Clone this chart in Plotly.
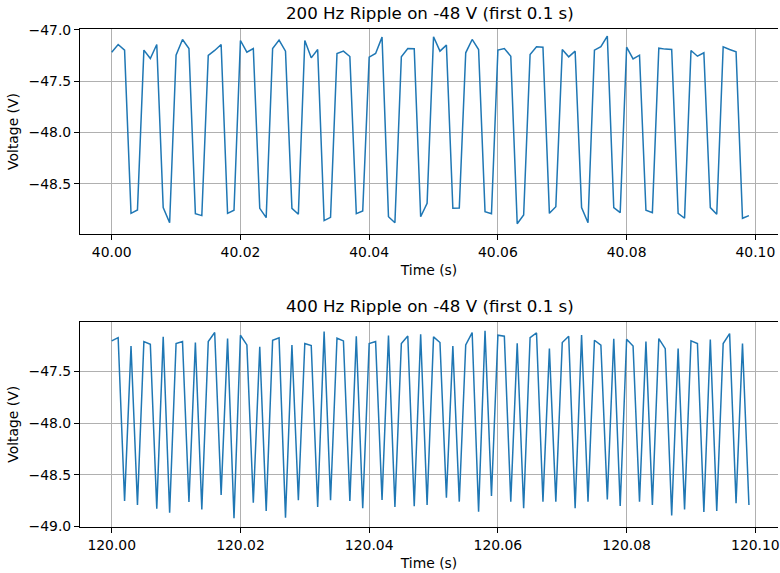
import plotly.graph_objects as go

# ---- data ----
t0_top = 40.0
t0_bot = 120.0
dt = 0.001

v_200hz = [
    -47.217, -47.142, -47.197, -48.787, -48.754,
    -47.197, -47.279, -47.142, -48.731, -48.878,
    -47.246, -47.093, -47.181, -48.790, -48.809,
    -47.249, -47.200, -47.142, -48.787, -48.757,
    -47.103, -47.217, -47.181, -48.738, -48.829,
    -47.181, -47.099, -47.207, -48.738, -48.796,
    -47.103, -47.272, -47.191, -48.858, -48.826,
    -47.230, -47.207, -47.259, -48.790, -48.764,
    -47.265, -47.230, -47.070, -48.820, -48.878,
    -47.262, -47.181, -47.184, -48.820, -48.689,
    -47.067, -47.207, -47.148, -48.738, -48.735,
    -47.223, -47.093, -47.191, -48.770, -48.790,
    -47.197, -47.181, -47.256, -48.888, -48.803,
    -47.239, -47.164, -47.168, -48.787, -48.722,
    -47.191, -47.262, -47.207, -48.731, -48.878,
    -47.197, -47.164, -47.060, -48.731, -48.780,
    -47.168, -47.282, -47.246, -48.757, -48.780,
    -47.178, -47.187, -47.191, -48.787, -48.835,
    -47.200, -47.256, -47.223, -48.731, -48.796,
    -47.164, -47.191, -47.213, -48.835, -48.809,
]

v_400hz = [
    -47.202, -47.170, -48.756, -47.251, -48.794,
    -47.209, -47.235, -48.830, -47.163, -48.869,
    -47.228, -47.209, -48.765, -47.218, -48.837,
    -47.209, -47.121, -48.697, -47.180, -48.924,
    -47.147, -47.241, -48.772, -47.260, -48.853,
    -47.196, -47.173, -48.917, -47.241, -48.749,
    -47.228, -47.248, -48.814, -47.112, -48.749,
    -47.176, -47.202, -48.756, -47.157, -48.827,
    -47.228, -47.209, -48.746, -47.150, -48.814,
    -47.228, -47.154, -48.807, -47.138, -48.794,
    -47.163, -47.218, -48.723, -47.251, -48.762,
    -47.241, -47.121, -48.859, -47.105, -48.707,
    -47.147, -47.157, -48.762, -47.225, -48.827,
    -47.170, -47.125, -48.762, -47.277, -48.762,
    -47.218, -47.157, -48.827, -47.144, -48.762,
    -47.196, -47.244, -48.740, -47.181, -48.804,
    -47.186, -47.251, -48.762, -47.209, -48.794,
    -47.180, -47.277, -48.895, -47.277, -48.837,
    -47.202, -47.227, -48.862, -47.189, -48.853,
    -47.228, -47.131, -48.778, -47.227, -48.794,
]

x_top_ticks = [40.00, 40.02, 40.04, 40.06, 40.08, 40.10]
x_top_labels = ["40.00", "40.02", "40.04", "40.06", "40.08", "40.10"]
x_bot_ticks = [120.00, 120.02, 120.04, 120.06, 120.08, 120.10]
x_bot_labels = ["120.00", "120.02", "120.04", "120.06", "120.08", "120.10"]
y_top_ticks = [-47.0, -47.5, -48.0, -48.5]
y_top_labels = ["\u221247.0", "\u221247.5", "\u221248.0", "\u221248.5"]
y_bot_ticks = [-47.5, -48.0, -48.5, -49.0]
y_bot_labels = ["\u221247.5", "\u221248.0", "\u221248.5", "\u221249.0"]

title_top = "200 Hz Ripple on -48 V (first 0.1 s)"
title_bot = "400 Hz Ripple on -48 V (first 0.1 s)"

t_top = [t0_top + i * dt for i in range(len(v_200hz))]
t_bot = [t0_bot + i * dt for i in range(len(v_400hz))]

FONT = "DejaVu Sans"
LINE_C = "#1f77b4"

fig = go.Figure()
fig.add_trace(go.Scatter(x=t_top, y=v_200hz, mode="lines",
                         line=dict(color=LINE_C, width=1.5),
                         xaxis="x", yaxis="y", showlegend=False))
fig.add_trace(go.Scatter(x=t_bot, y=v_400hz, mode="lines",
                         line=dict(color=LINE_C, width=1.5),
                         xaxis="x2", yaxis="y2", showlegend=False))

common_axis = dict(
    showline=True, linecolor="black", linewidth=1.1,
    ticks="outside", ticklen=5, tickwidth=1.1, tickcolor="black",
    showgrid=True, gridcolor="#b0b0b0", gridwidth=1.1,
    zeroline=False,
    ticklabeloverflow="allow",
    tickfont=dict(family=FONT, size=13.9, color="black"),
)

x_left_pad = (111.8 - 80) / 6455.0
x_right_pad = (780 - 111.8) / 6455.0

fig.update_layout(
    width=780, height=573,
    margin=dict(l=80, r=0, t=29, b=46),
    paper_bgcolor="white", plot_bgcolor="white",
    font=dict(family=FONT, size=13.9, color="black"),
    xaxis=dict(common_axis, domain=[0, 1], anchor="y",
               range=[t0_top - x_left_pad, t0_top + x_right_pad],
               tickmode="array", tickvals=x_top_ticks, ticktext=x_top_labels,
               mirror=True,
               title=dict(text="Time (s)", font=dict(family=FONT, size=13.9), standoff=6)),
    yaxis=dict(common_axis, domain=[0.5884, 1], anchor="x",
               range=[-48.988, -46.991],
               tickmode="array", tickvals=y_top_ticks, ticktext=y_top_labels,
               title=dict(text="Voltage (V)", font=dict(family=FONT, size=13.9), standoff=6)),
    xaxis2=dict(common_axis, domain=[0, 1], anchor="y2",
                range=[t0_bot - x_left_pad, t0_bot + x_right_pad],
                tickmode="array", tickvals=x_bot_ticks, ticktext=x_bot_labels,
                mirror=True,
                title=dict(text="Time (s)", font=dict(family=FONT, size=13.9), standoff=6)),
    yaxis2=dict(common_axis, domain=[0, 0.4122], anchor="x2",
                range=[-49.008, -47.016],
                tickmode="array", tickvals=y_bot_ticks, ticktext=y_bot_labels,
                title=dict(text="Voltage (V)", font=dict(family=FONT, size=13.9), standoff=6)),
    annotations=[
        dict(text=title_top, xref="paper", x=0.502, yref="y domain", y=1,
             xanchor="center", yanchor="bottom", yshift=4, showarrow=False,
             font=dict(family=FONT, size=16.67, color="black")),
        dict(text=title_bot, xref="paper", x=0.502, yref="y2 domain", y=1,
             xanchor="center", yanchor="bottom", yshift=4, showarrow=False,
             font=dict(family=FONT, size=16.67, color="black")),
    ],
)

fig.write_html("out.html")
